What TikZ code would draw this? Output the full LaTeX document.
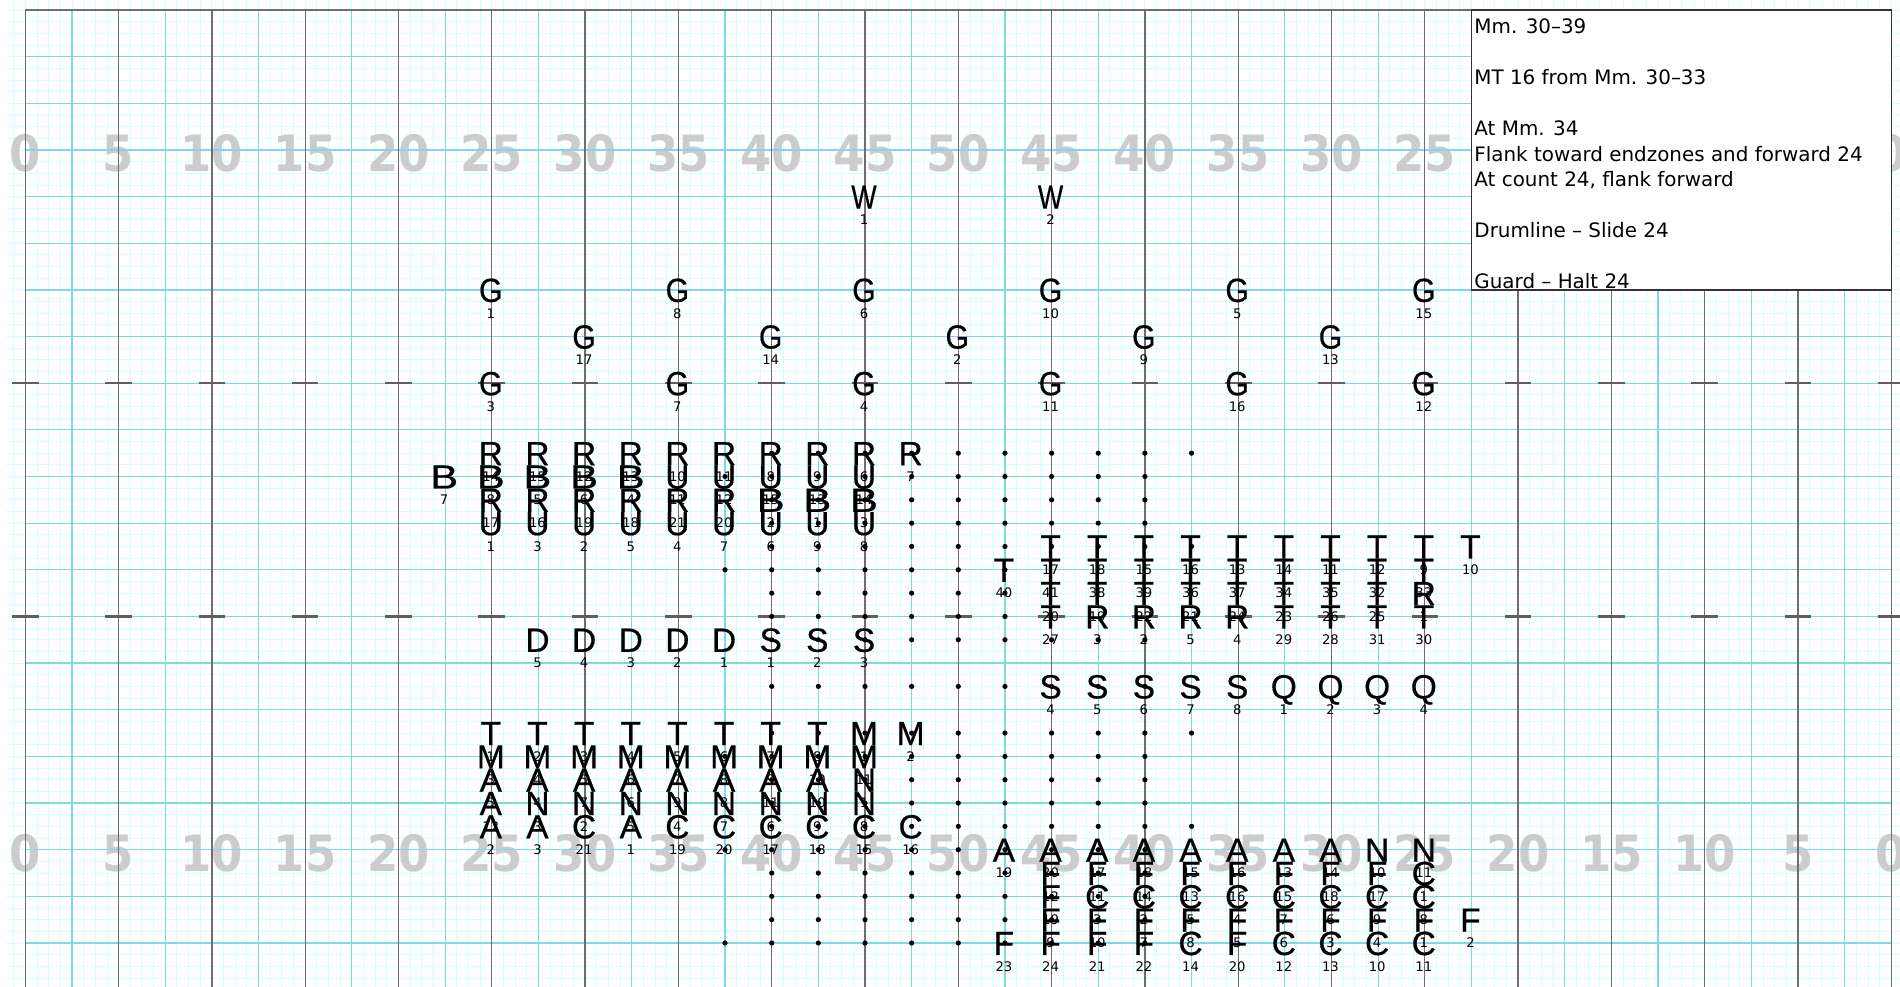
\documentclass[tikz,border=0pt]{standalone}
\usepackage{fontspec}
\usepackage{graphicx}
\usepackage{xcolor}
\newfontfamily\letterfont[FakeBold=0.5]{Liberation Sans}
\newfontfamily\tagfont{DejaVu Sans}
\newfontfamily\yardfont[FakeStretch=0.9]{DejaVu Sans Bold}
\definecolor{minorline}{HTML}{D2FFFF}
\definecolor{gridline}{HTML}{7FD8E6}
\definecolor{yardline}{HTML}{6E6E6E}
\definecolor{yardnum}{HTML}{CCCCCC}

\newcommand{\squad}[3][1]{%
  \foreach \c/\r/\n in {#3}{
    \node[letter] (#2\n) at (\c,\r) {\scalebox{#1}[1]{#2}};
    \node[numtag] (#2\n tag) at (\c,\r+1) {\n};
  }}

\begin{document}
\begin{tikzpicture}[x=46.65pt,y=-23.325pt,
  letter/.style={inner sep=0pt, text height=24pt, text depth=0pt, xshift=-1pt,
                 font=\fontsize{33.5}{33.5}\selectfont\letterfont},
  numtag/.style={inner sep=0pt, text height=9.6pt, text depth=0pt, xshift=-1pt,
                 font=\fontsize{13.2}{13.2}\selectfont\tagfont},
  yard/.style={inner sep=0pt, text height=36.5pt, text depth=0pt, text=yardnum,
               font=\fontsize{50}{50}\selectfont\yardfont},
  fine/.style={minorline, line width=0.85pt},
  blue/.style={gridline, line width=1.25pt},
  dark/.style={yardline, line width=1.3pt},
  hash/.style={yardline!85!black, line width=2.6pt},
  spot/.style={circle, fill=black, inner sep=0pt, minimum size=5.2pt}]
\useasboundingbox (-0.5423,-0.4287) rectangle (40.187,41.886);

% fine grid
\foreach \i in {0,...,84}{
  \draw[fine] (-0.414,\i/2) -- (40.187,\i/2);
}
\foreach \i in {-1,...,160}{
  \draw[fine] (\i/4,-0.4287) -- (\i/4,41.886);
}

% yard numbers
\foreach \c/\n in {0/0,2/5,4/10,6/15,8/20,10/25,12/30,14/35,16/40,18/45,20/50,
                   22/45,24/40,26/35,28/30,30/25,32/20,34/15,36/10,38/5,40/0}{
  \node[yard] (top\c) at (\c,6.15) {\n};
  \node[yard] (bot\c) at (\c,36.15) {\n};
}

% main grid
\foreach \r in {2,4,...,40}{
  \draw[blue] (0,\r) -- (40,\r);
}
\foreach \c in {1,3,...,39}{
  \draw[blue] (\c,0) -- (\c,41.886);
}
\foreach \c in {0,2,...,40}{
  \draw[dark] (\c,0) -- (\c,41.886);
  \foreach \r in {16,26}{
    \draw[hash] ([xshift=-13.3pt]\c,\r) -- ([xshift=13.3pt]\c,\r);
  }
}
\draw[dark] (0,0) -- (40,0);

% dots
\foreach \c in {16,...,21}{
  \foreach \r in {19,...,27,29,31,32,33,34,35,36,37,38,39,40}{
    \node[spot] (p\c-\r) at (\c,\r) {};
  }
}
\foreach \c in {22,23,24}{
  \foreach \r in {19,...,23,27,29,31,32,33,34,35,36,37,38,39,40}{
    \node[spot] (p\c-\r) at (\c,\r) {};
  }
}
\foreach \c/\r in {25/19,25/23,25/31,25/35,25/39,15/20,15/24,15/32,15/36,15/40}{
  \node[spot] (p\c-\r) at (\c,\r) {};
}

% winds, guard
\squad[0.8]{W}{18/8/1,22/8/2}
\squad[0.9]{G}{10/12/1,14/12/8,18/12/6,22/12/10,26/12/5,30/12/15,
          12/14/17,16/14/14,20/14/2,24/14/9,28/14/13,
          10/16/3,14/16/7,18/16/4,22/16/11,26/16/16,30/16/12}

% upper blocks
\squad{R}{10/19/14,11/19/15,12/19/12,13/19/13,14/19/10,15/19/11,16/19/8,17/19/9,18/19/6,19/19/7,
          10/21/17,11/21/16,12/21/19,13/21/18,14/21/21,15/21/20,
          23/26/3,24/26/2,25/26/5,26/26/4,30/25/1}
\squad[1.25]{B}{9/20/7,10/20/8,11/20/5,12/20/6,13/20/4,16/21/2,17/21/1,18/21/3}
\squad{U}{14/20/11,15/20/12,16/20/15,17/20/13,18/20/14,
          10/22/1,11/22/3,12/22/2,13/22/5,14/22/4,15/22/7,16/22/6,17/22/9,18/22/8}
\squad{T}{22/23/17,23/23/18,24/23/15,25/23/16,26/23/13,27/23/14,28/23/11,29/23/12,30/23/9,31/23/10,
          21/24/40,22/24/41,23/24/38,24/24/39,25/24/36,26/24/37,27/24/34,28/24/35,29/24/32,30/24/33,
          22/25/20,23/25/19,24/25/22,25/25/21,26/25/24,27/25/23,28/25/26,29/25/25,
          22/26/27,27/26/29,28/26/28,29/26/31,30/26/30,
          10/31/1,11/31/2,12/31/3,13/31/4,14/31/5,15/31/6,16/31/7,17/31/8}

% drumline
\squad{D}{11/27/5,12/27/4,13/27/3,14/27/2,15/27/1}
\squad{S}{16/27/1,17/27/2,18/27/3,22/29/4,23/29/5,24/29/6,25/29/7,26/29/8}
\squad{Q}{27/29/1,28/29/2,29/29/3,30/29/4}

% lower blocks
\squad{M}{18/31/1,19/31/2,10/32/3,11/32/4,12/32/5,13/32/6,14/32/7,15/32/8,16/32/9,17/32/10,18/32/11}
\squad{A}{10/33/5,11/33/4,12/33/7,13/33/6,14/33/9,15/33/8,16/33/11,17/33/10,
          10/34/12,10/35/2,11/35/3,13/35/1,
          21/36/19,22/36/20,23/36/17,24/36/18,25/36/15,26/36/16,27/36/13,28/36/14}
\squad{N}{18/33/1,11/34/3,12/34/2,13/34/5,14/34/4,15/34/7,16/34/6,17/34/9,18/34/8,29/36/10,30/36/11}
\squad{C}{12/35/21,14/35/19,15/35/20,16/35/17,17/35/18,18/35/15,19/35/16,
          30/37/1,23/38/3,24/38/2,25/38/5,26/38/4,27/38/7,28/38/6,29/38/9,30/38/8,
          25/40/14,27/40/12,28/40/13,29/40/10,30/40/11}
\squad{F}{22/37/12,23/37/11,24/37/14,25/37/13,26/37/16,27/37/15,28/37/18,29/37/17,22/38/19,
          22/39/9,23/39/10,24/39/7,25/39/8,26/39/5,27/39/6,28/39/3,29/39/4,30/39/1,31/39/2,
          21/40/23,22/40/24,23/40/21,24/40/22,26/40/20}

% notes
\draw[fill=white, draw=black!80, line width=1.3pt] (31,0) rectangle (40,12);
\node[anchor=north west, inner sep=0pt, align=left, xshift=2.8pt, yshift=-8.8pt,
      font=\fontsize{19.9}{25.5}\selectfont\tagfont] (notes) at (31,0)
  {Mm. 30–39\\ \\MT 16 from Mm. 30–33\\ \\At Mm. 34\\Flank toward endzones and forward 24\\
   At count 24, flank forward\\ \\Drumline – Slide 24\\ \\Guard – Halt 24};
\end{tikzpicture}
\end{document}
